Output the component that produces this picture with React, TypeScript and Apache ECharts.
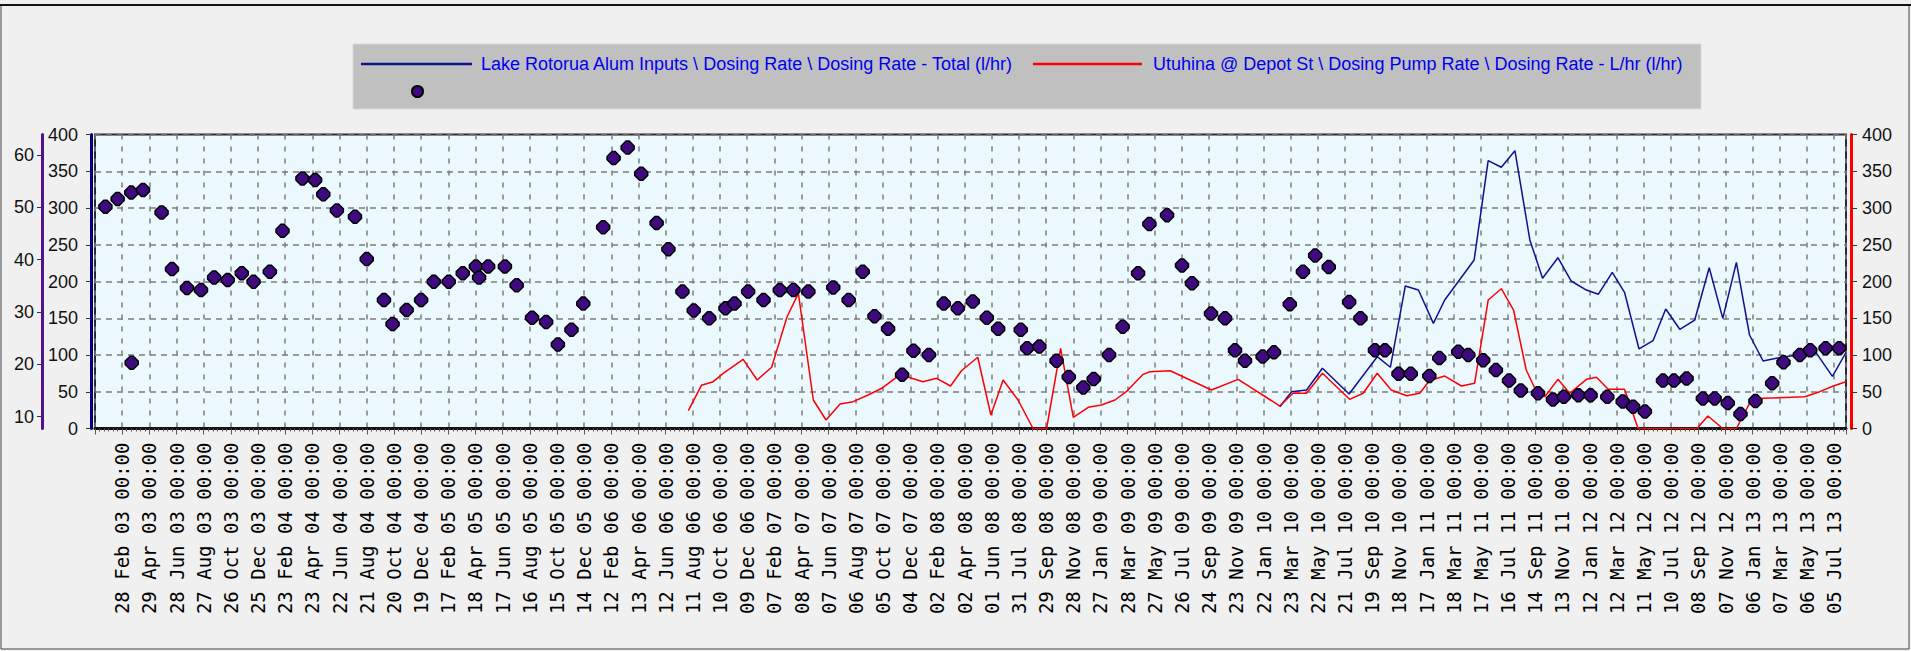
import React, { useEffect, useRef } from 'react';
import * as echarts from 'echarts';

// ---------- data ----------
const BASE_DATE = '2003-02-28';
const X_MIN_DAYS = -60;
const X_MAX_DAYS = 3806;
const X_TICK_DAYS = 60;
const MONTHS = ['Jan', 'Feb', 'Mar', 'Apr', 'May', 'Jun', 'Jul', 'Aug', 'Sep', 'Oct', 'Nov', 'Dec'];

const LEFT_RATE_TICKS = [10, 20, 30, 40, 50, 60];

const SERIES_BLUE = 'Lake Rotorua Alum Inputs \\ Dosing Rate \\ Dosing Rate - Total (l/hr)';
const SERIES_RED = 'Utuhina @ Depot St \\ Dosing Pump Rate \\ Dosing Rate - L/hr (l/hr)';
const SERIES_DOTS = 'Samples';

const DOT_DATES = [
  '2003-01-22', '2003-02-18', '2003-03-20', '2003-03-21', '2003-04-15', '2003-05-26', '2003-06-18', '2003-07-21',
  '2003-08-21', '2003-09-19', '2003-10-19', '2003-11-19', '2003-12-15', '2004-01-20', '2004-02-17', '2004-04-01',
  '2004-04-29', '2004-05-17', '2004-06-16', '2004-07-26', '2004-08-21', '2004-09-28', '2004-10-17', '2004-11-17',
  '2004-12-19', '2005-01-16', '2005-02-18', '2005-03-21', '2005-04-19', '2005-04-26', '2005-05-16', '2005-06-22',
  '2005-07-18', '2005-08-21', '2005-09-21', '2005-10-17', '2005-11-16', '2005-12-12', '2006-01-25', '2006-02-17',
  '2006-03-20', '2006-04-19', '2006-05-23', '2006-06-18', '2006-07-19', '2006-08-13', '2006-09-16', '2006-10-22',
  '2006-11-11', '2006-12-11', '2007-01-14', '2007-02-19', '2007-03-21', '2007-04-23', '2007-06-17', '2007-07-21',
  '2007-08-21', '2007-09-16', '2007-10-16', '2007-11-16', '2007-12-11', '2008-01-14', '2008-02-16', '2008-03-18',
  '2008-04-20', '2008-05-21', '2008-06-15', '2008-08-04', '2008-08-18', '2008-09-14', '2008-10-22', '2008-11-18',
  '2008-12-20', '2009-01-12', '2009-02-15', '2009-03-17', '2009-04-20', '2009-05-15', '2009-06-23', '2009-07-26',
  '2009-08-17', '2009-09-28', '2009-10-29', '2009-11-20', '2009-12-12', '2010-01-20', '2010-02-14', '2010-03-21',
  '2010-04-19', '2010-05-16', '2010-06-15', '2010-07-30', '2010-08-24', '2010-09-25', '2010-10-17', '2010-11-16',
  '2010-12-13', '2011-01-23', '2011-02-14', '2011-03-28', '2011-04-19', '2011-05-22', '2011-06-19', '2011-07-18',
  '2011-08-13', '2011-09-20', '2011-10-23', '2011-11-16', '2011-12-18', '2012-01-14', '2012-02-20', '2012-03-25',
  '2012-04-17', '2012-05-13', '2012-06-22', '2012-07-16', '2012-08-13', '2012-09-18', '2012-10-14', '2012-11-12',
  '2012-12-10', '2013-01-12', '2013-02-18', '2013-03-15', '2013-04-20', '2013-05-13', '2013-06-16', '2013-07-16',
];
const DOT_VALUES = [
  50.1, 51.6, 52.8, 20.3, 53.3, 49.0, 38.2, 34.6,
  34.2, 36.6, 36.1, 37.4, 35.8, 37.7, 45.5, 55.5,
  55.2, 52.5, 49.4, 48.2, 40.1, 32.3, 27.7, 30.4,
  32.3, 35.8, 35.8, 37.4, 38.7, 36.6, 38.7, 38.7,
  35.1, 28.9, 28.1, 23.8, 26.6, 31.6, 46.2, 59.4,
  61.4, 56.4, 47.0, 42.0, 33.9, 30.3, 28.8, 30.7,
  31.6, 33.9, 32.3, 34.2, 34.2, 33.9, 34.7, 32.3,
  37.7, 29.2, 26.8, 18.0, 22.6, 21.8, 31.6, 30.7,
  32.0, 28.9, 26.8, 26.6, 23.1, 23.4, 20.7, 17.6,
  15.6, 17.2, 21.8, 27.2, 37.4, 46.8, 48.5, 38.9,
  35.5, 29.7, 28.8, 22.7, 20.7, 21.5, 22.3, 31.5,
  37.7, 40.8, 38.6, 31.9, 28.8, 22.7, 22.7, 18.2,
  18.2, 17.8, 21.2, 22.4, 21.8, 20.8, 18.9, 16.9,
  15.0, 14.5, 13.3, 13.8, 14.1, 14.1, 13.8, 12.9,
  11.9, 11.0, 16.9, 16.9, 17.3, 13.5, 13.5, 12.6,
  10.5, 13.0, 16.4, 20.4, 21.8, 22.7, 23.1, 23.1,
];

const BLUE_DATES = [
  '2010-02-27', '2010-03-25', '2010-04-27', '2010-06-01', '2010-07-30', '2010-09-30', '2010-10-29', '2010-12-01',
  '2010-12-30', '2011-02-01', '2011-02-26', '2011-05-02', '2011-06-02', '2011-07-01', '2011-07-31', '2011-09-02',
  '2011-09-30', '2011-11-03', '2011-12-02', '2012-01-05', '2012-01-31', '2012-03-02', '2012-03-29', '2012-04-30',
  '2012-05-31', '2012-06-28', '2012-07-29', '2012-08-31', '2012-10-02', '2012-11-01', '2012-12-01', '2012-12-30',
  '2013-01-29', '2013-02-27', '2013-05-25', '2013-07-01', '2013-07-31',
];
const BLUE_VALUES = [
  29.7, 50.1, 52.4, 81.9, 46.9, 97.7, 83.3, 193.9,
  188.4, 143.1, 174.8, 229.3, 364.4, 355.4, 378.0, 256.5,
  204.4, 232.4, 200.7, 188.4, 182.6, 212.5, 185.3, 108.2,
  119.5, 162.6, 135.0, 147.6, 218.8, 149.9, 226.1, 127.2,
  91.8, 95.5, 104, 71.0, 103.4,
];

const RED_DATES = [
  '2006-08-01', '2006-08-30', '2006-09-25', '2006-10-17', '2006-11-30', '2006-12-31', '2007-02-01', '2007-03-07',
  '2007-04-01', '2007-05-04', '2007-06-01', '2007-07-02', '2007-07-31', '2007-09-02', '2007-10-02', '2007-11-15',
  '2007-11-30', '2008-01-01', '2008-01-31', '2008-03-02', '2008-03-26', '2008-05-01', '2008-05-30', '2008-06-26',
  '2008-07-29', '2008-08-31', '2008-09-30', '2008-10-31', '2008-11-28', '2008-12-31', '2009-01-29', '2009-02-28',
  '2009-03-25', '2009-05-01', '2009-05-16', '2009-06-30', '2009-09-29', '2009-11-27', '2010-02-27', '2010-03-28',
  '2010-04-27', '2010-06-01', '2010-07-31', '2010-08-30', '2010-09-30', '2010-10-31', '2010-12-04', '2011-01-02',
  '2011-01-23', '2011-02-26', '2011-04-04', '2011-05-03', '2011-06-02', '2011-07-01', '2011-07-28', '2011-08-25',
  '2011-09-13', '2011-10-05', '2011-11-03', '2011-11-29', '2012-01-05', '2012-01-27', '2012-02-22', '2012-03-29',
  '2012-04-28', '2012-06-15', '2012-09-05', '2012-09-29', '2012-11-01', '2012-12-01', '2012-12-30', '2013-01-29',
  '2013-05-01', '2013-06-03', '2013-07-03', '2013-07-31',
];
const RED_VALUES = [
  24.2, 58.8, 63.7, 75.1, 94.1, 66.0, 83.3, 152.1,
  183.9, 38.8, 11.6, 33.3, 36.5, 45.6, 54.7, 75.1,
  69.7, 63.7, 68.3, 57.8, 78.6, 96.9, 18.4, 66.0,
  38.8, 0, 0, 109.1, 15.2, 28.8, 32.0, 38.8,
  50.1, 73.7, 77.3, 78.6, 52.4, 66.9, 30.6, 47.9,
  47.9, 75.1, 39.7, 47.9, 75.1, 52.4, 44.6, 47.9,
  65.0, 71.4, 57.8, 61.5, 174.8, 190.2, 161.2, 79.6,
  54.7, 43.3, 66.9, 47.9, 66.9, 69.7, 53.3, 53.3,
  0, 0, 0, 17.0, 0, 0, 34.3, 41.1,
  43.3, 50.1, 57.8, 63.7,
];

// ---------- helpers ----------
const DAY_MS = 86400000;
function utc(s: string) {
  const [y, m, d] = s.split('-').map(Number);
  return Date.UTC(y, m - 1, d);
}
const BASE_MS = utc(BASE_DATE);
function dayOf(s: string) {
  return Math.round((utc(s) - BASE_MS) / DAY_MS);
}
function pairs(dates: string[], values: number[]) {
  return dates.map((d, i) => [dayOf(d), values[i]]);
}
function dayLabel(v: number) {
  if (v < 0 || v % X_TICK_DAYS !== 0) return '';
  const d = new Date(BASE_MS + v * DAY_MS);
  const dd = String(d.getUTCDate()).padStart(2, '0');
  const yy = String(d.getUTCFullYear()).slice(2);
  return `${dd} ${MONTHS[d.getUTCMonth()]} ${yy} 00:00`;
}

const AXIS_FONT = { fontFamily: 'Liberation Sans, Arial, sans-serif', fontSize: 18, color: '#111' };
const LEGEND_FONT = { fontFamily: 'Liberation Sans, Arial, sans-serif', fontSize: 18, color: '#0000ee' };

export default function App() {
  const ref = useRef<HTMLDivElement>(null);

  useEffect(() => {
    if (!ref.current) return;
    const chart = echarts.init(ref.current, null, { renderer: 'svg' });

    const option: any = {
      animation: false,
      backgroundColor: '#f0f0f0',
      graphic: [
        {
          type: 'rect',
          z: 0,
          silent: true,
          shape: { x: 1, y: 5, width: 1908, height: 644 },
          style: { fill: 'none', stroke: '#444', lineWidth: 1 },
        },
        {
          type: 'line',
          z: 0,
          silent: true,
          shape: { x1: 0, y1: 5, x2: 1911, y2: 5 },
          style: { stroke: '#111', lineWidth: 2 },
        },
        {
          type: 'rect',
          z: 1,
          silent: true,
          shape: { x: 353, y: 44, width: 1348, height: 65 },
          style: { fill: '#c0c0c0', stroke: '#d8d8d8', lineWidth: 1 },
        },
      ],
      legend: [
        {
          data: [{ name: SERIES_BLUE, icon: 'rect' }],
          left: 361,
          top: 55,
          itemWidth: 111,
          itemHeight: 2.5,
          itemGap: 0,
          padding: 0,
          textStyle: { ...LEGEND_FONT, padding: [0, 0, 0, 4] },
          selectedMode: false,
        },
        {
          data: [{ name: SERIES_RED, icon: 'rect' }],
          left: 1033,
          top: 55,
          itemWidth: 109,
          itemHeight: 2.5,
          itemGap: 0,
          padding: 0,
          textStyle: { ...LEGEND_FONT, padding: [0, 0, 0, 6] },
          selectedMode: false,
        },
        {
          data: [SERIES_DOTS],
          left: 411,
          top: 85,
          itemWidth: 11,
          itemHeight: 11,
          padding: 0,
          icon: 'circle',
          formatter: () => '',
          selectedMode: false,
        },
      ],
      grid: {
        left: 95,
        right: 65,
        top: 134.5,
        bottom: 222.5,
        show: true,
        backgroundColor: '#ebf8fe',
        borderColor: '#2a2a2a',
        borderWidth: 2,
        containLabel: false,
      },
      xAxis: {
        type: 'value',
        min: X_MIN_DAYS,
        max: X_MAX_DAYS,
        interval: X_TICK_DAYS,
        axisLine: { show: true, onZero: false, lineStyle: { color: '#111', width: 3 } },
        axisTick: { show: true, length: 6, lineStyle: { color: '#555', width: 1 } },
        minorTick: { show: true, splitNumber: 6, length: 3, lineStyle: { color: '#555', width: 1 } },
        axisLabel: {
          rotate: 90,
          margin: 14,
          fontFamily: 'DejaVu Sans Mono, monospace',
          fontSize: 19,
          color: '#000',
          showMinLabel: false,
          showMaxLabel: false,
          formatter: dayLabel,
        },
        splitLine: { show: true, lineStyle: { color: '#7c7c7c', width: 1.5, type: [5, 7] } },
      },
      yAxis: [
        {
          type: 'value',
          position: 'left',
          offset: 4,
          min: 0,
          max: 400,
          interval: 50,
          axisLine: { show: true, onZero: false, lineStyle: { color: '#000080', width: 3 } },
          axisTick: { show: true, length: 5, lineStyle: { color: '#333' } },
          axisLabel: { ...AXIS_FONT, margin: 13 },
          splitLine: { show: true, lineStyle: { color: '#7c7c7c', width: 1.5, type: [6, 5] } },
        },
        {
          type: 'value',
          position: 'left',
          offset: 53,
          min: 7.75,
          max: 63.9,
          axisLine: { show: true, onZero: false, lineStyle: { color: '#4f1290', width: 3 } },
          axisTick: { show: true, length: 5, customValues: LEFT_RATE_TICKS, lineStyle: { color: '#333' } },
          axisLabel: { ...AXIS_FONT, margin: 8, customValues: LEFT_RATE_TICKS },
          splitLine: { show: false },
        },
        {
          type: 'value',
          position: 'right',
          offset: 5,
          min: 0,
          max: 400,
          interval: 50,
          axisLine: { show: true, onZero: false, lineStyle: { color: '#ff0000', width: 3 } },
          axisTick: { show: true, length: 6, lineStyle: { color: '#333' } },
          axisLabel: { ...AXIS_FONT, margin: 11 },
          splitLine: { show: false },
        },
      ],
      series: [
        {
          name: SERIES_BLUE,
          type: 'line',
          yAxisIndex: 0,
          data: pairs(BLUE_DATES, BLUE_VALUES),
          symbol: 'none',
          lineStyle: { color: '#101090', width: 1.5 },
          itemStyle: { color: '#101090' },
          z: 3,
        },
        {
          name: SERIES_RED,
          type: 'line',
          yAxisIndex: 2,
          data: pairs(RED_DATES, RED_VALUES),
          symbol: 'none',
          lineStyle: { color: '#ff0000', width: 1.5 },
          itemStyle: { color: '#ff0000' },
          z: 4,
        },
        {
          name: SERIES_DOTS,
          type: 'scatter',
          yAxisIndex: 1,
          data: pairs(DOT_DATES, DOT_VALUES),
          symbol: 'path://M4.5,0 L7.5,0 L12,4.5 L12,7.5 L7.5,12 L4.5,12 L0,7.5 L0,4.5 Z',
          symbolSize: 13,
          itemStyle: { color: '#3f0a80', borderColor: '#000', borderWidth: 1.5, opacity: 1 },
          z: 6,
        },
      ],
    };

    chart.setOption(option);
    return () => chart.dispose();
  }, []);

  return (
    <div
      ref={ref}
      style={{ position: 'fixed', left: 0, top: 0, width: 1911, height: 651 }}
    />
  );
}
